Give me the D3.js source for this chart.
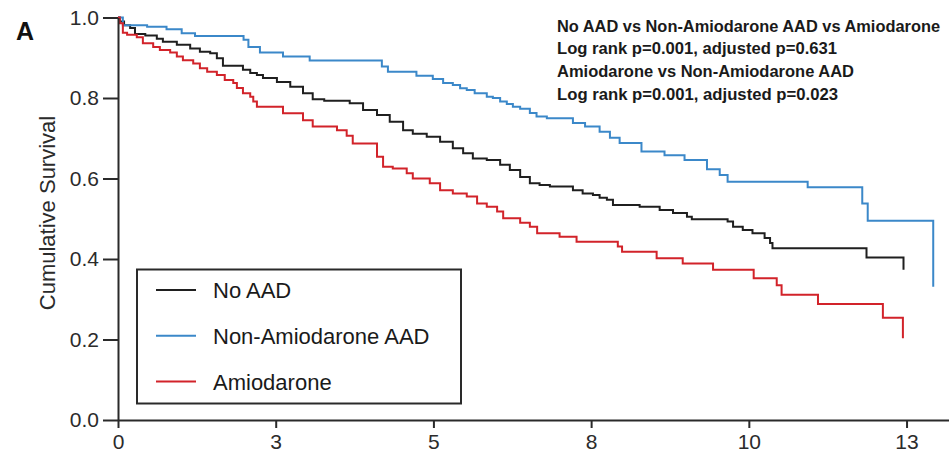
<!DOCTYPE html>
<html>
<head>
<meta charset="utf-8">
<script src="https://cdn.jsdelivr.net/npm/d3@7"></script>
<style>
  html, body { margin: 0; padding: 0; background: #fff; }
  svg { display: block; }
  text { font-family: "Liberation Sans", Arial, sans-serif; }
</style>
</head>
<body>
<svg id="chart" width="949" height="459"></svg>
<script>
// ---------------- DATA ----------------
const seriesNames = ["No AAD", "Non-Amiodarone AAD", "Amiodarone"];

const xTickValues = [0, 2.6, 5.2, 7.8, 10.4, 13];
const xTickLabels = ["0", "3", "5", "8", "10", "13"];
const yTickValues = [0, 0.2, 0.4, 0.6, 0.8, 1.0];

const annotationLines = [
  "No AAD vs Non-Amiodarone AAD vs Amiodarone",
  "Log rank p=0.001, adjusted p=0.631",
  "Amiodarone vs Non-Amiodarone AAD",
  "Log rank p=0.001, adjusted p=0.023"
];

// No AAD (black)
const noAadTime = [0, 0.03, 0.10, 0.20, 0.28, 0.45, 0.64, 0.74, 0.97, 1.19, 1.35, 1.52, 1.63, 1.73,
  2.06, 2.18, 2.29, 2.39, 2.62, 2.84, 3.05, 3.21, 3.40, 3.82, 4.04, 4.27, 4.48, 4.70, 4.86, 5.09,
  5.31, 5.52, 5.69, 5.85, 6.08, 6.30, 6.46, 6.63, 6.79, 6.95, 7.12, 7.50, 7.66, 7.83, 7.94, 8.06,
  8.16, 8.60, 8.93, 9.15, 9.38, 9.46, 10.05, 10.14, 10.30, 10.46, 10.66, 10.75, 10.79, 12.34, 12.95];
const noAadSurv = [1, 0.990, 0.981, 0.974, 0.959, 0.955, 0.947, 0.940, 0.932, 0.923, 0.915, 0.911, 0.899, 0.880,
  0.870, 0.862, 0.857, 0.850, 0.840, 0.828, 0.812, 0.797, 0.793, 0.787, 0.770, 0.758, 0.741, 0.720, 0.711, 0.704,
  0.691, 0.675, 0.663, 0.650, 0.646, 0.634, 0.621, 0.604, 0.588, 0.584, 0.580, 0.571, 0.563, 0.559, 0.552, 0.547,
  0.534, 0.530, 0.522, 0.514, 0.505, 0.499, 0.493, 0.480, 0.472, 0.464, 0.452, 0.440, 0.427, 0.404, 0.373];

// Non-Amiodarone AAD (blue)
const nonAmioTime = [0, 0.08, 0.48, 0.80, 1.05, 1.27, 2.07, 2.15, 2.34, 2.72, 3.16, 4.35, 4.45, 4.92,
  5.19, 5.36, 5.52, 5.64, 5.75, 5.88, 6.08, 6.18, 6.30, 6.41, 6.51, 6.63, 6.79, 6.90, 7.07, 7.50,
  7.70, 7.94, 8.11, 8.27, 8.63, 9.01, 9.34, 9.71, 9.92, 10.05, 11.37, 12.27, 12.36, 13.44];
const nonAmioSurv = [1, 0.981, 0.977, 0.971, 0.961, 0.954, 0.945, 0.927, 0.913, 0.903, 0.893, 0.878, 0.865, 0.855,
  0.847, 0.837, 0.832, 0.824, 0.820, 0.812, 0.803, 0.800, 0.791, 0.785, 0.778, 0.773, 0.763, 0.754, 0.750, 0.738,
  0.729, 0.716, 0.701, 0.688, 0.667, 0.658, 0.646, 0.623, 0.609, 0.592, 0.578, 0.538, 0.495, 0.331];

// Amiodarone (red)
const amioTime = [0, 0.03, 0.08, 0.15, 0.31, 0.41, 0.58, 0.69, 0.86, 0.97, 1.07, 1.24, 1.35, 1.47, 1.63,
  1.76, 1.90, 1.96, 2.06, 2.18, 2.23, 2.29, 2.72, 3.05, 3.21, 3.61, 3.77, 3.87, 4.27, 4.37, 4.53,
  4.76, 4.86, 5.14, 5.31, 5.52, 5.75, 5.92, 6.08, 6.25, 6.35, 6.63, 6.79, 6.91, 7.28, 7.56, 8.24,
  8.31, 8.88, 9.31, 9.81, 10.48, 10.86, 10.94, 11.54, 12.61, 12.94];
const amioSurv = [1, 0.986, 0.962, 0.957, 0.951, 0.936, 0.927, 0.919, 0.913, 0.903, 0.894, 0.886, 0.874, 0.865, 0.857,
  0.845, 0.837, 0.825, 0.812, 0.803, 0.791, 0.778, 0.762, 0.745, 0.729, 0.720, 0.706, 0.687, 0.654, 0.629, 0.625,
  0.613, 0.600, 0.588, 0.571, 0.563, 0.555, 0.538, 0.530, 0.518, 0.501, 0.490, 0.480, 0.464, 0.455, 0.443, 0.431,
  0.418, 0.402, 0.389, 0.373, 0.352, 0.335, 0.311, 0.288, 0.254, 0.203];

// ---------------- DRAW ----------------
const colors = ["#1f1f1f", "#3b88c9", "#d2232a"];
const seriesData = [
  d3.zip(noAadTime, noAadSurv),
  d3.zip(nonAmioTime, nonAmioSurv),
  d3.zip(amioTime, amioSurv)
];

const svg = d3.select("#chart");
const x = d3.scaleLinear().domain([0, 13.7]).range([118, 949]);
const y = d3.scaleLinear().domain([0, 1]).range([420, 17.5]);

// curves
const line = d3.line().x(d => x(d[0])).y(d => y(d[1])).curve(d3.curveStepAfter);
svg.append("g").selectAll("path").data(seriesData).join("path")
  .attr("d", line)
  .attr("fill", "none")
  .attr("stroke", (d, i) => colors[i])
  .attr("stroke-width", 2);

// axes
const yAxis = svg.append("g").attr("transform", `translate(${x(0)},0)`)
  .call(d3.axisLeft(y).tickValues(yTickValues).tickFormat(d3.format(".1f")).tickSize(15).tickSizeOuter(0).tickPadding(4));
const xAxis = svg.append("g").attr("transform", `translate(0,${y(0)})`)
  .call(d3.axisBottom(x).tickValues(xTickValues).tickFormat((d, i) => xTickLabels[i]).tickSize(8).tickSizeOuter(0).tickPadding(6));

[yAxis, xAxis].forEach(g => {
  g.select(".domain").attr("stroke", "#2a2a2a").attr("stroke-width", 2);
  g.selectAll(".tick line").attr("stroke", "#2a2a2a").attr("stroke-width", 2);
  g.selectAll(".tick text").attr("fill", "#2b2b2b")
    .style("font-family", "'Liberation Sans', Arial, sans-serif").style("font-size", "21px");
});

// y-axis title
svg.append("text")
  .attr("transform", "translate(55,213) rotate(-90)")
  .attr("text-anchor", "middle")
  .attr("fill", "#2b2b2b")
  .style("font-size", "22px")
  .text("Cumulative Survival");

// panel label
svg.append("text")
  .attr("x", 16).attr("y", 40)
  .attr("fill", "#111")
  .style("font-size", "25px").style("font-weight", "bold")
  .text("A");

// annotation
const annWidths = [383, 280, 297, 281];
svg.append("g").selectAll("text").data(annotationLines).join("text")
  .attr("x", 557)
  .attr("y", (d, i) => 31.5 + i * 22.8)
  .attr("fill", "#1a1a1a")
  .attr("textLength", (d, i) => annWidths[i])
  .attr("lengthAdjust", "spacingAndGlyphs")
  .style("font-size", "16.3px").style("font-weight", "bold")
  .text(d => d);

// legend
const legend = svg.append("g");
legend.append("rect")
  .attr("x", 137).attr("y", 269.5).attr("width", 324).attr("height", 134)
  .attr("fill", "#fff").attr("stroke", "#2a2a2a").attr("stroke-width", 2);
const items = legend.selectAll("g.item").data(seriesNames).join("g").attr("class", "item")
  .attr("transform", (d, i) => `translate(0,${290 + i * 45.8})`);
items.append("line")
  .attr("x1", 156).attr("x2", 196).attr("y1", 0).attr("y2", 0)
  .attr("stroke", (d, i) => colors[i]).attr("stroke-width", 2);
items.append("text")
  .attr("x", 213).attr("y", 0).attr("dy", "0.36em")
  .attr("fill", "#1a1a1a")
  .style("font-size", "22px")
  .text(d => d);
</script>
</body>
</html>
